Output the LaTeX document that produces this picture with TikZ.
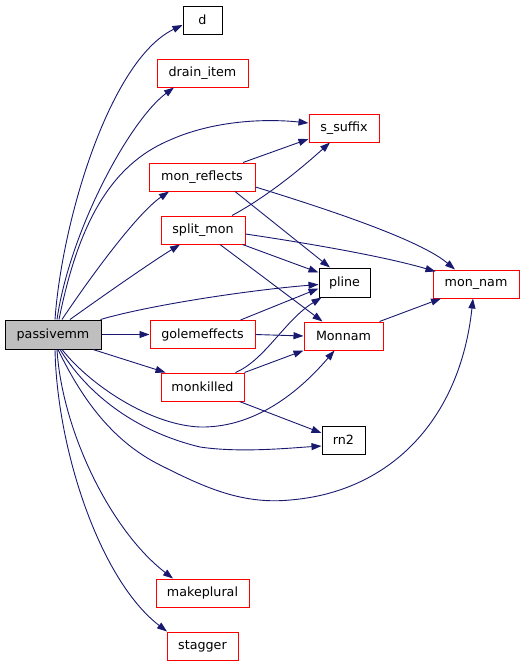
\documentclass[tikz,border=0pt]{standalone}
\usepackage{fontspec}
\setmainfont{DejaVu Sans}
\usetikzlibrary{arrows.meta,calc}
\definecolor{edgeblue}{RGB}{25,25,112}
\definecolor{rootfill}{RGB}{191,191,191}
\begin{document}
\begin{tikzpicture}[x=1pt,y=-1pt,
  box/.style={draw=black,line width=1pt,rectangle,inner sep=0pt,fill=white,
    font=\fontsize{12.7}{14}\selectfont},
  redbox/.style={box,draw=red},
  edge/.style={draw=edgeblue,line width=0.9pt,-{Triangle[length=10pt,width=7pt]}}]
\useasboundingbox (0,0) rectangle (525,667);

\node[box,fill=rootfill,minimum width=96pt,minimum height=29pt] (passivemm) at (53,334.5) {passivemm};
\node[box,minimum width=39pt,minimum height=28pt] (d) at (202.5,20) {d};
\node[redbox,minimum width=91pt,minimum height=28pt] (drain) at (202.5,73) {drain\_item};
\node[redbox,minimum width=70pt,minimum height=28pt] (ssuffix) at (344,128) {s\_suffix};
\node[redbox,minimum width=106pt,minimum height=28pt] (monref) at (202,177) {mon\_reflects};
\node[redbox,minimum width=84pt,minimum height=28pt] (splitmon) at (203,230) {split\_mon};
\node[box,minimum width=51pt,minimum height=29pt] (pline) at (344.5,282.5) {pline};
\node[redbox,minimum width=105pt,minimum height=28pt] (golem) at (202.5,334.5) {golemeffects};
\node[redbox,minimum width=79pt,minimum height=28pt] (Monnam) at (343.5,336) {Monnam};
\node[redbox,minimum width=83pt,minimum height=28pt] (monkilled) at (202.5,387) {monkilled};
\node[redbox,minimum width=86pt,minimum height=28pt] (monnam) at (476,284) {mon\_nam};
\node[box,minimum width=43pt,minimum height=28pt] (rn2) at (343.5,440) {rn2};
\node[redbox,minimum width=93pt,minimum height=28pt] (makeplural) at (202.5,593) {makeplural};
\node[redbox,minimum width=71pt,minimum height=28pt] (stagger) at (202.5,646) {stagger};

% passivemm edges
\draw[edge] ($(passivemm.north)+(2,0)$) .. controls (62,220) and (110,60) .. ($(d.west)+(0,5)$);
\draw[edge] ($(passivemm.north)+(4,0)$) .. controls (70,230) and (130,120) .. ($(drain.south)+(-28.5,0)$);
\draw[edge] ($(passivemm.north)+(6,0)$) .. controls (78,225) and (110,165) .. (170,140)
  .. controls (210,122) and (260,118) .. ($(ssuffix.west)+(0,-5)$);
\draw[edge] ($(passivemm.north)+(9,0)$) .. controls (85,285) and (135,215) .. ($(monref.south)+(-33,0)$);
\draw[edge] ($(passivemm.north)+(17,0)$) .. controls (100,298) and (150,263) .. ($(splitmon.south)+(-23,0)$);
\draw[edge] ($(passivemm.north east)+(-1,0)$) .. controls (150,305) and (250,290) .. ($(pline.west)+(0,2)$);
\draw[edge] (passivemm.east) -- (golem.west);
\draw[edge] ($(passivemm.south)+(40,0)$) -- ($(monkilled.north)+(-37,0)$);
\draw[edge] ($(passivemm.south)+(9,0)$) .. controls (90,385) and (150,425) .. (200,427)
  .. controls (260,428) and (305,385) .. ($(Monnam.south)+(-9,0)$);
\draw[edge] ($(passivemm.south)+(7,0)$) .. controls (85,390) and (130,430) .. (200,447)
  .. controls (240,453) and (290,448) .. ($(rn2.west)+(0,6)$);
\draw[edge] ($(passivemm.south)+(5,0)$) .. controls (80,395) and (110,440) .. (160,465)
  .. controls (200,485) and (240,505) .. (290,500)
  .. controls (390,492) and (460,420) .. ($(monnam.south)+(-3,0)$);
\draw[edge] ($(passivemm.south)+(4,0)$) .. controls (62,430) and (110,530) .. ($(makeplural.north)+(-29.5,0)$);
\draw[edge] ($(passivemm.south)+(2,0)$) .. controls (57,450) and (100,580) .. ($(stagger.north)+(-35.5,0)$);

% mon_reflects edges
\draw[edge] ($(monref.north)+(41,0)$) -- ($(ssuffix.west)+(0,11)$);
\draw[edge] ($(monref.south)+(33,0)$) -- ($(pline.north)+(-14.5,0)$);
\draw[edge] ($(monref.east)+(0,10)$) .. controls (330,210) and (420,240) .. ($(monnam.north)+(-21,0)$);

% split_mon edges
\draw[edge] ($(splitmon.north)+(29,0)$) .. controls (270,195) and (305,165) .. ($(ssuffix.south)+(-14,0)$);
\draw[edge] ($(splitmon.south east)+(-3,0)$) -- ($(pline.west)+(0,-10)$);
\draw[edge] ($(splitmon.east)+(0,4)$) .. controls (320,245) and (390,258) .. ($(monnam.north west)+(3,2)$);
\draw[edge] ($(splitmon.south)+(17,0)$) -- ($(Monnam.north)+(-21,0)$);

% golemeffects edges
\draw[edge] ($(golem.north)+(38,0)$) -- ($(pline.west)+(0,6)$);
\draw[edge] (golem.east) -- (Monnam.west);

% monkilled edges
\draw[edge] ($(monkilled.north)+(33,0)$) .. controls (265,360) and (285,320) .. ($(pline.south west)+(3,0)$);
\draw[edge] (monkilled.north east) -- (Monnam.south west);
\draw[edge] ($(monkilled.south)+(37,0)$) -- ($(rn2.west)+(0,-7)$);

% Monnam edge
\draw[edge] ($(Monnam.north)+(36,0)$) -- ($(monnam.south)+(-35,0)$);
\end{tikzpicture}
\end{document}
